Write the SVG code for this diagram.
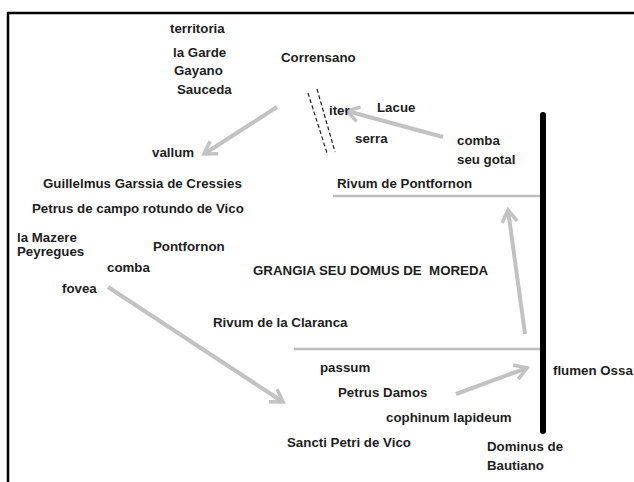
<svg xmlns="http://www.w3.org/2000/svg" width="634" height="482" viewBox="0 0 634 482">
<style>
  text { font-family: "Liberation Sans", Arial, sans-serif; font-size: 13.3px; font-weight: bold; fill: #1e1e1e; white-space: pre; }
  .arrow { stroke: #c2c2c2; stroke-width: 4; fill: none; marker-end: url(#chev); }
  .rivus { stroke: #bdbdbd; stroke-width: 2.5; fill: none; }
  .dash { stroke: #222; stroke-width: 1.2; stroke-dasharray: 4 2.5; fill: none; }
</style>
<defs>
  <marker id="chev" markerUnits="userSpaceOnUse" markerWidth="18" markerHeight="18" viewBox="0 0 18 18" refX="15" refY="9" orient="auto">
    <path d="M3,1.5 L15,9 L3,16.5" stroke="#c2c2c2" stroke-width="3.5" fill="none"/>
  </marker>
</defs>
<rect width="634" height="482" fill="#fff"/>
<path d="M8,482 L8,13 L634,13" stroke="#000" stroke-width="2.5" fill="none"/>

<g id="connectors">
  <line class="rivus" x1="333" y1="196" x2="543" y2="196"/>
  <line class="rivus" x1="294" y1="349" x2="543" y2="349"/>
  <line x1="543" y1="115" x2="543" y2="431" stroke="#000" stroke-width="6" stroke-linecap="round"/>
  <line class="dash" x1="308" y1="93" x2="327" y2="153"/>
  <line class="dash" x1="317" y1="89" x2="335" y2="152"/>
  <line class="arrow" x1="277" y1="107" x2="204" y2="154"/>
  <line class="arrow" x1="443" y1="137" x2="347" y2="111"/>
  <line class="arrow" x1="108" y1="287" x2="283" y2="402"/>
  <line class="arrow" x1="525" y1="334" x2="508" y2="210"/>
  <line class="arrow" x1="456" y1="394" x2="527" y2="368"/>
</g>

<g id="territoria"><text x="170" y="33">territoria</text></g>
<g id="la-garde"><text x="173" y="57">la Garde</text></g>
<g id="gayano"><text x="174" y="75">Gayano</text></g>
<g id="sauceda"><text x="177" y="94">Sauceda</text></g>
<g id="corrensano"><text x="281" y="62">Corrensano</text></g>
<g id="iter"><text x="329" y="115">iter</text></g>
<g id="lacue"><text x="377" y="112">Lacue</text></g>
<g id="serra"><text x="355" y="143">serra</text></g>
<g id="comba-gotal"><text x="457" y="145">comba</text><text x="457" y="164">seu gotal</text></g>
<g id="rivum-pontfornon"><text x="337" y="188">Rivum de Pontfornon</text></g>
<g id="vallum"><text x="152" y="157">vallum</text></g>
<g id="guillelmus"><text x="43" y="188">Guillelmus Garssia de Cressies</text></g>
<g id="petrus-campo"><text x="32" y="213">Petrus de campo rotundo de Vico</text></g>
<g id="la-mazere"><text x="17" y="242">la Mazere</text></g>
<g id="peyregues"><text x="17" y="256">Peyregues</text></g>
<g id="pontfornon"><text x="153" y="251">Pontfornon</text></g>
<g id="comba"><text x="107" y="272">comba</text></g>
<g id="fovea"><text x="62" y="293">fovea</text></g>
<g id="grangia"><text x="253" y="275">GRANGIA SEU DOMUS DE  MOREDA</text></g>
<g id="rivum-claranca"><text x="213" y="327">Rivum de la Claranca</text></g>
<g id="passum"><text x="320" y="372">passum</text></g>
<g id="petrus-damos"><text x="338" y="397">Petrus Damos</text></g>
<g id="cophinum"><text x="386" y="422">cophinum lapideum</text></g>
<g id="sancti-petri"><text x="287" y="447">Sancti Petri de Vico</text></g>
<g id="dominus"><text x="487" y="451">Dominus de</text><text x="487" y="470">Bautiano</text></g>
<g id="flumen-ossa"><text x="553" y="375">flumen Ossa</text></g>
</svg>
